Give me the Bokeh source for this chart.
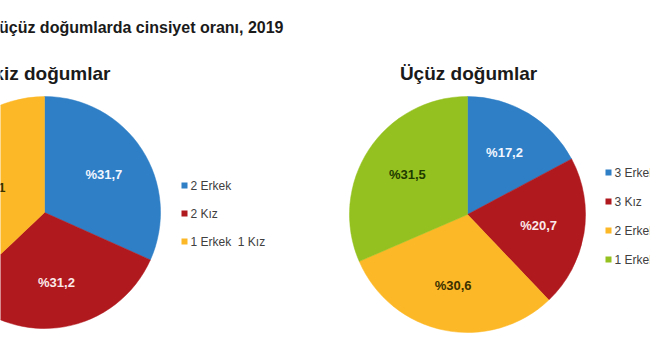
import math
from bokeh.plotting import figure
from bokeh.models import Range1d, ColumnDataSource
from bokeh.core.properties import value
from bokeh.embed import file_html
from bokeh.resources import INLINE

# ---- data ----
title_text = "İkiz ve üçüz doğumlarda cinsiyet oranı, 2019"
twin_title = "İkiz doğumlar"
twin_categories = ["2 Erkek", "2 Kız", "1 Erkek\u00a0 1 Kız"]
twin_values = [31.7, 31.2, 37.1]
triplet_title = "Üçüz doğumlar"
triplet_categories = ["3 Erkek", "3 Kız", "2 Erkek 1 Kız", "1 Erkek 2 Kız"]
triplet_values = [17.2, 20.7, 30.6, 31.5]

BLUE, RED, YELLOW, GREEN = "#2e7fc6", "#b0191e", "#fdb827", "#94c11f"
twin_colors = [BLUE, RED, YELLOW]
triplet_colors = [BLUE, RED, YELLOW, GREEN]
twin_label_colors = ["#f2f6ff", "#fbe9ea", "#3a3000"]
triplet_label_colors = ["#f2f6ff", "#fbe9ea", "#3a3000", "#1e3a00"]
twin_label_radius = [0.61, 0.61, 0.54]
triplet_label_radius = [0.61, 0.61, 0.61, 0.61]

W, H = 650, 360
FONT = value("Liberation Sans")

p = figure(width=W, height=H, output_backend="svg", toolbar_location=None,
           x_range=Range1d(0, W), y_range=Range1d(0, H), min_border=0)
p.axis.visible = False
p.grid.visible = False
p.outline_line_color = None
p.background_fill_color = "white"


def pie(cx, cy, r, cats, vals, colors, lcolors, lrad, leg_x, leg_y0, leg_step):
    total = sum(vals)
    starts, ends, lx, ly, labels = [], [], [], [], []
    cum = 0.0
    for v, f in zip(vals, lrad):
        a0 = math.pi / 2 - 2 * math.pi * cum / total
        cum += v
        a1 = math.pi / 2 - 2 * math.pi * cum / total
        starts.append(a0)
        ends.append(a1)
        mid = (a0 + a1) / 2
        lx.append(cx + f * r * math.cos(mid))
        ly.append(cy + f * r * math.sin(mid))
        labels.append("%" + f"{v:.1f}".replace(".", ","))
    src = ColumnDataSource(dict(s=starts, e=ends, c=colors, lx=lx, ly=ly,
                                t=labels, lc=lcolors, cat=cats,
                                gx=[leg_x] * len(cats),
                                gy=[leg_y0 - i * leg_step for i in range(len(cats))],
                                tx=[leg_x + 6] * len(cats)))
    p.wedge(x=cx, y=cy, radius=r, start_angle="s", end_angle="e",
            direction="clock", fill_color="c", line_color="c", line_width=0.5,
            source=src)
    p.text(x="lx", y="ly", text="t", text_color="lc", text_font=FONT,
           text_font_style="bold", text_font_size="13px", text_align="center",
           text_baseline="middle", source=src)
    p.scatter(x="gx", y="gy", marker="square", size=6, fill_color="c",
              line_color=None, source=src)
    p.text(x="tx", y="gy", text="cat", text_color="#404040", text_font=FONT,
           text_font_size="12px", text_align="left", text_baseline="middle",
           source=src)


pie(44, 148, 116, twin_categories, twin_values, twin_colors, twin_label_colors,
    twin_label_radius, 184, 175, 28)
pie(467, 146, 118, triplet_categories, triplet_values, triplet_colors,
    triplet_label_colors, triplet_label_radius, 608, 188, 29)

p.text(x=[283], y=[333], text=[title_text], text_font=FONT,
       text_font_style="bold", text_font_size="16px", text_color="#1a1a1a",
       text_align="right", text_baseline="middle")
p.text(x=[110], y=[287], text=[twin_title], text_font=FONT,
       text_font_style="bold", text_font_size="19px", text_color="#1a1a1a",
       text_align="right", text_baseline="middle")
p.text(x=[468], y=[287], text=[triplet_title], text_font=FONT,
       text_font_style="bold", text_font_size="19px", text_color="#1a1a1a",
       text_align="center", text_baseline="middle")

open("out.html", "w").write(file_html(p, INLINE))
